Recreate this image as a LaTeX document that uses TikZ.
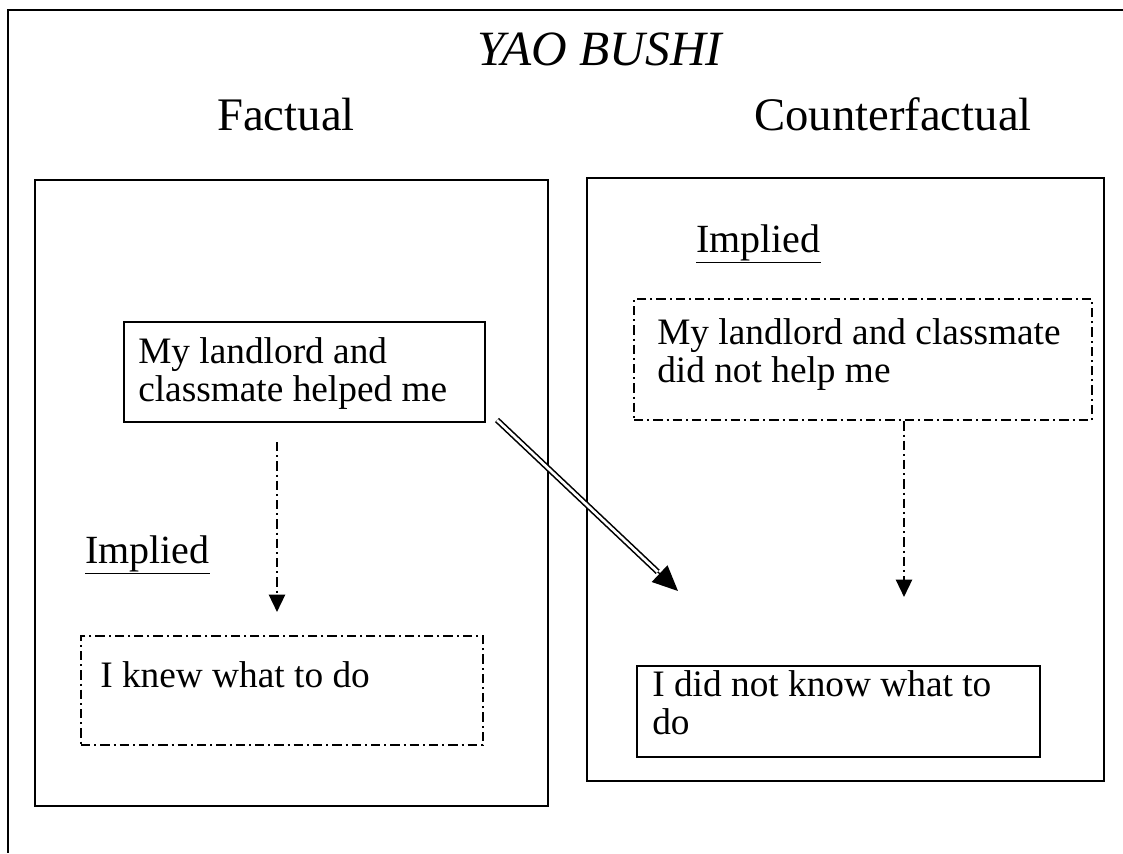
\documentclass[tikz,border=0pt]{standalone}
\usepackage{fontspec}
\setmainfont{Liberation Serif}
\usetikzlibrary{arrows.meta,calc,fit}
\begin{document}
\begin{tikzpicture}[x=0.75pt,y=-0.75pt,
  frame/.style={line width=1.6pt},
  panel/.style={draw,line width=1.9pt,inner sep=0pt},
  solidbox/.style={draw,line width=1.7pt,inner sep=0pt},
  dashbox/.style={draw,line width=1.8pt,dash pattern=on 7pt off 3pt on 1.5pt off 3pt,inner sep=0pt},
  boxtext/.style={anchor=base west,align=left,inner sep=0pt,font=\fontsize{28}{28.5}\selectfont},
  heading/.style={anchor=base,inner sep=0pt,font=\fontsize{35}{40}\selectfont},
  implied/.style={anchor=base west,inner sep=0pt,font=\fontsize{30}{32}\selectfont},
  implies/.style={line width=1.8pt,dash pattern=on 7pt off 3pt on 1.5pt off 3pt,-{Triangle[length=13pt,width=12pt]}},
  contrastshaft/.style={double,line width=1.2pt,double distance=2pt,shorten >=21pt},
  contrasttip/.style={line width=1pt,-{Triangle[length=19pt,width=17pt]}},
]
\useasboundingbox (0,0) rectangle (1123,853);

% page frame (top and left edges)
\draw[frame] (1123,10) -- (8,10) -- (8,853);

% headings
\node[heading,font=\fontsize{37}{40}\selectfont\itshape] (title) at (600,65) {YAO BUSHI};
\node[heading] (fact) at (286,130) {Factual};
\node[heading] (cfact) at (893,130) {Counterfactual};

% the two panels
\node[panel,fit={(35,180) (548,806)}] (lpanel) {};
\node[panel,fit={(587,178) (1104,781)}] (rpanel) {};

% factual side (multi-line texts are anchored at their last baseline)
\node[solidbox,fit={(124,322) (485,422)}] (helped) {};
\node[boxtext] (helpedtxt) at (138,401) {My landlord and\\classmate helped me};
\node[implied] (limplied) at (85,563) {\underline{Implied}};
\node[dashbox,fit={(81,636) (483,745)}] (knew) {};
\node[boxtext] (knewtxt) at (100,687) {I knew what to do};

% counterfactual side
\node[implied] (rimplied) at (696,252) {\underline{Implied}};
\node[dashbox,fit={(634,299) (1092,420)}] (nothelp) {};
\node[boxtext] (nothelptxt) at (657,382) {My landlord and classmate\\did not help me};
\node[solidbox,fit={(637,666) (1040,757)}] (notknow) {};
\node[boxtext] (notknowtxt) at (652,734) {I did not know what to\\do};

% connectors
\coordinate (lstart) at (277,442);
\coordinate (ltip) at (277,612);
\draw[implies] (lstart) -- (ltip);

\coordinate (rtip) at (904,597);
\draw[implies] (nothelp.south -| rtip) -- (rtip);

\coordinate (dstart) at (497,420);
\coordinate (dtip) at (678,591);
\draw[contrasttip] (dstart) -- (dtip);
\draw[contrastshaft] (dstart) -- (dtip);
\end{tikzpicture}
\end{document}
